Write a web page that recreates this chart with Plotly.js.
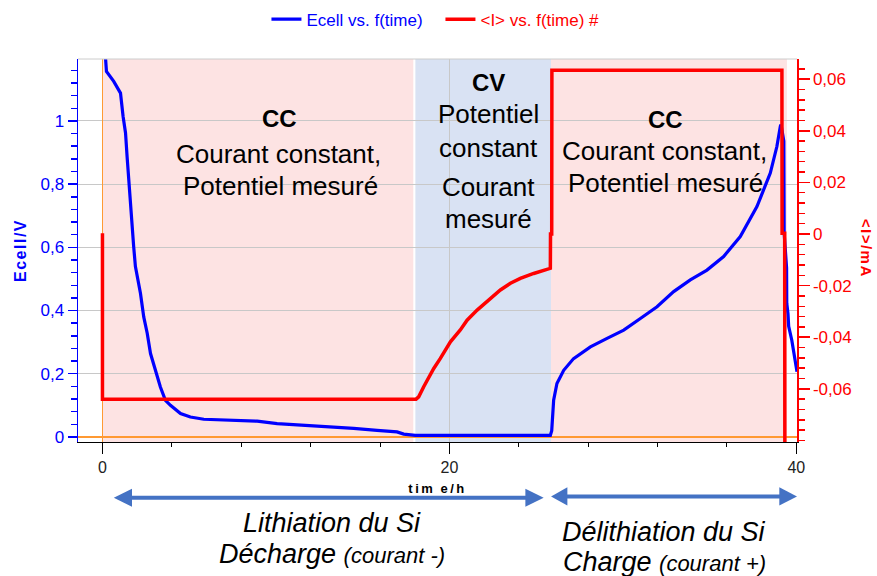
<!DOCTYPE html>
<html>
<head>
<meta charset="utf-8">
<script src="https://cdn.plot.ly/plotly-3.0.1.min.js"></script>
<style>html,body{margin:0;padding:0;background:#fff}#chart{width:877px;height:576px}</style>
</head>
<body>
<div id="chart"></div>
<script>
// ---- data ----
const ecellTime = [0.10,0.23,0.65,1.04,1.19,1.33,1.42,1.57,1.80,1.90,2.19,2.38,2.58,2.77,3.05,3.34,3.63,3.92,4.50,5.07,5.84,6.42,7.76,8.92,10.07,11.60,13.53,14.48,15.83,16.98,17.37,18.04,20.00,22.00,24.00,25.82,25.90,25.92,26.01,26.20,26.59,27.16,28.13,29.09,30.05,31.01,31.97,32.93,33.89,34.85,35.81,36.77,37.73,38.50,38.88,39.08,39.12,39.28,39.30,39.44,39.45,39.52,39.56,39.74,39.93,40.04];
const ecellVolt = [1.26,1.157,1.125,1.088,1.014,0.962,0.887,0.761,0.602,0.539,0.455,0.380,0.328,0.264,0.211,0.158,0.116,0.100,0.074,0.063,0.056,0.055,0.053,0.050,0.042,0.037,0.032,0.027,0.021,0.016,0.009,0.005,0.005,0.005,0.005,0.005,0.020,0.042,0.116,0.169,0.211,0.248,0.285,0.312,0.338,0.375,0.412,0.460,0.497,0.528,0.571,0.634,0.729,0.835,0.919,0.983,0.988,0.936,0.645,0.535,0.423,0.390,0.350,0.306,0.243,0.206];
const currentTime = [0,0,18.08,18.23,18.52,19.10,19.48,20.06,20.63,21.02,21.60,22.17,22.94,23.52,24.09,24.86,25.44,25.82,25.83,25.90,25.91,39.17,39.18,39.33,39.34];
const currentMA = [0.0003,-0.0640,-0.0640,-0.0631,-0.0592,-0.0521,-0.0482,-0.0418,-0.0372,-0.0334,-0.0295,-0.0263,-0.0217,-0.0191,-0.0172,-0.0153,-0.0140,-0.0133,0.0,0.0,0.0634,0.0634,0.0003,0.0003,-0.095];
// phases: [start h, end h]
const phaseCC1 = [0, 17.92];
const phaseCV = [18.04, 25.86];
const phaseCC2 = [25.86, 39.46];
// tick labels
const xTickVals = [0,20,40];
const xTickText = ['0','20','40'];
const yTickVals = [0,0.2,0.4,0.6,0.8,1];
const yTickText = ['0','0,2','0,4','0,6','0,8','1'];
const y2TickVals = [-0.06,-0.04,-0.02,0,0.02,0.04,0.06];
const y2TickText = ['-0,06','-0,04','-0,02','0','0,02','0,04','0,06'];

// ---- layout geometry (pixels) ----
const L = 77.5, R = 796.7, T = 59.3, B = 441.7;
const W = R - L, H = B - T;
const px = x => (x - L) / W;
const py = y => (B - y) / H;
const FONT = 'Liberation Sans, Arial, sans-serif';
const BLUE = '#0000ff', RED = '#ff0000', ARROW = '#4472c4';

const traces = [
  {x: ecellTime, y: ecellVolt, type: 'scatter', mode: 'lines', xaxis: 'x', yaxis: 'y',
   name: '<span style="color:#0000ff">Ecell vs. f(time)</span>',
   line: {color: BLUE, width: 3.2}},
  {x: currentTime, y: currentMA, type: 'scatter', mode: 'lines', xaxis: 'x', yaxis: 'y2',
   name: '<span style="color:#ff0000">&lt;I&gt; vs. f(time) #</span>',
   line: {color: RED, width: 3.5}}
];

function txt(text, xp, yp, size, color) {
  return {text: text, xref: 'paper', yref: 'paper', x: px(xp), y: py(yp),
    xanchor: 'center', yanchor: 'middle', showarrow: false,
    font: {family: FONT, size: size, color: color || '#000'}};
}

const annotations = [
  txt('<b>CC</b>', 279, 119, 24),
  txt('Courant constant,', 278, 154, 26),
  txt('Potentiel mesuré', 280, 186, 26),
  txt('<b>CV</b>', 488, 82.5, 24),
  txt('Potentiel', 488, 114, 26),
  txt('constant', 488, 148, 26),
  txt('Courant', 488, 187, 26),
  txt('mesuré', 488, 219, 26),
  txt('<b>CC</b>', 665, 119.5, 24),
  txt('Courant constant,', 664, 151, 26),
  txt('Potentiel mesuré', 665, 183, 26),
  txt('<i>Lithiation du Si</i>', 332, 523, 27),
  txt('<i>Décharge <span style="font-size:22px">(courant -)</span></i>', 332, 554, 27),
  txt('<i>Délithiation du Si</i>', 664, 532, 27),
  txt('<i>Charge <span style="font-size:22px">(courant +)</span></i>', 664, 562, 27),
  Object.assign(txt('<b><span style="letter-spacing:1.5px">&lt;I&gt;/mA</span></b>', 866, 248, 15, RED), {textangle: 90})
];

function band(p, color) {
  return {type: 'rect', xref: 'x', yref: 'paper', x0: p[0], x1: p[1], y0: 0, y1: 1,
    fillcolor: color, line: {width: 0}, layer: 'below'};
}
function tri(tipX, baseX, yc, half) {
  return {type: 'path', xref: 'paper', yref: 'paper', fillcolor: ARROW, line: {width: 0},
    path: 'M' + px(tipX) + ',' + py(yc) + ' L' + px(baseX) + ',' + py(yc - half) +
          ' L' + px(baseX) + ',' + py(yc + half) + ' Z'};
}
function hline(x0, x1, yc) {
  return {type: 'line', xref: 'paper', yref: 'paper', x0: px(x0), x1: px(x1), y0: py(yc), y1: py(yc),
    line: {color: ARROW, width: 4}};
}

const shapes = [
  band(phaseCC1, '#fde3e3'),
  band(phaseCV, '#d9e2f3'),
  band(phaseCC2, '#fde3e3'),
  {type: 'line', xref: 'paper', yref: 'paper', x0: 0, x1: 1, y0: 1, y1: 1, line: {color: '#cccccc', width: 1}},
  hline(128, 528, 497.3), tri(113.3, 131.5, 497.3, 9), tri(543.3, 525, 497.3, 9),
  hline(565, 781, 496), tri(550.7, 567, 496, 9), tri(796.7, 779, 496, 9)
];

const layout = {
  width: 877, height: 576,
  margin: {l: L, r: 877 - R, t: T, b: 576 - B, pad: 0, autoexpand: false},
  paper_bgcolor: '#ffffff', plot_bgcolor: 'rgba(0,0,0,0)',
  font: {family: FONT, size: 16, color: '#222'},
  showlegend: true,
  legend: {orientation: 'h', xref: 'paper', yref: 'paper', x: px(266), xanchor: 'left',
           y: py(2), yanchor: 'top', font: {family: FONT, size: 17},
           entrywidth: 129, entrywidthmode: 'pixels', bgcolor: 'rgba(0,0,0,0)'},
  xaxis: {range: [-1.41, 40.04], tickmode: 'array', tickvals: xTickVals, ticktext: xTickText,
          ticks: 'outside', ticklen: 11, tickwidth: 1, tickcolor: '#000',
          minor: {dtick: 4, tick0: 0, ticks: 'outside', ticklen: 4, tickcolor: '#000', showgrid: false},
          showline: true, linecolor: '#000', linewidth: 1,
          showgrid: true, gridcolor: '#c8c8c8', gridwidth: 1,
          zeroline: true, zerolinecolor: '#ff9933', zerolinewidth: 1.5,
          tickfont: {size: 16, color: '#222'},
          title: {text: '<b><span style="letter-spacing:2.5px">tim\u2009e/h</span></b>', font: {size: 13, color: '#000'}, standoff: 8}},
  yaxis: {range: [-0.016, 1.196], tickmode: 'array', tickvals: yTickVals, ticktext: yTickText,
          ticks: 'outside', ticklen: 9, tickwidth: 1.5, tickcolor: BLUE,
          minor: {dtick: 0.04, tick0: 0, ticks: 'outside', ticklen: 6, tickcolor: BLUE, showgrid: false},
          showline: true, linecolor: BLUE, linewidth: 1.5,
          showgrid: true, gridcolor: '#c8c8c8', gridwidth: 1,
          zeroline: true, zerolinecolor: '#ff9933', zerolinewidth: 1.5,
          tickfont: {size: 17, color: BLUE},
          title: {text: '<b><span style="letter-spacing:1.5px">Ecell/V</span></b>', font: {size: 16, color: BLUE}, standoff: 10}},
  yaxis2: {range: [-0.0806, 0.0678], overlaying: 'y', side: 'right', tickmode: 'array',
          tickvals: y2TickVals, ticktext: y2TickText,
          ticks: 'outside', ticklen: 11, tickwidth: 1.5, tickcolor: RED,
          minor: {dtick: 0.004, tick0: 0, ticks: 'outside', ticklen: 6, tickcolor: RED, showgrid: false},
          showline: true, linecolor: RED, linewidth: 1.5,
          showgrid: false, zeroline: false,
          tickfont: {size: 17, color: RED}},
  annotations: annotations,
  shapes: shapes
};

Plotly.newPlot('chart', traces, layout, {displayModeBar: false, staticPlot: true});
</script>
</body>
</html>
